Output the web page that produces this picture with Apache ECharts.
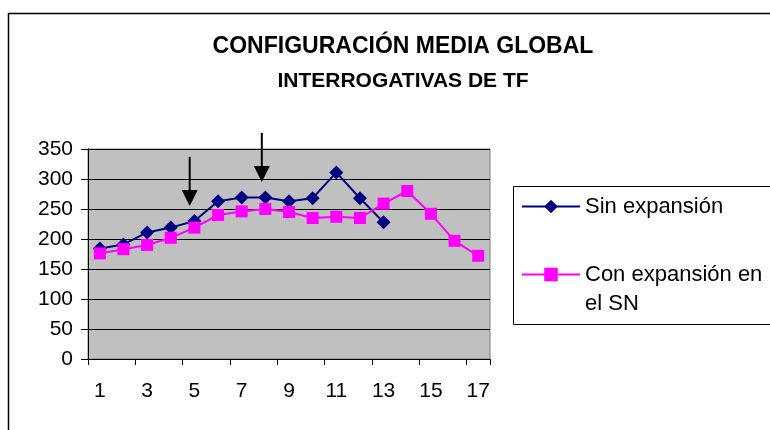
<!DOCTYPE html>
<html>
<head>
<meta charset="utf-8">
<script src="https://cdn.jsdelivr.net/npm/echarts@6/dist/echarts.min.js"></script>
<style>
  html, body { margin: 0; padding: 0; background: #fff; }
  #chart { width: 770px; height: 430px; }
</style>
</head>
<body>
<div id="chart"></div>
<script>
const categories = ['1', '2', '3', '4', '5', '6', '7', '8', '9', '10', '11', '12', '13', '14', '15', '16', '17'];
const sinExpansion = [184, 191, 211, 219, 230, 263, 269, 269, 263, 268, 311, 268, 228];
const conExpansion = [176, 183, 190, 202, 219, 240, 246, 250, 245, 235, 237, 235, 259, 280, 242, 197, 172];
const yTicks = [0, 50, 100, 150, 200, 250, 300, 350];
// arrows: category position (0-based, fractional) and value range top -> tip
const arrowX = [3.8, 6.85];
const arrowTop = [337, 377];
const arrowTip = [255, 295];

const font = 'Arial, "Liberation Sans", sans-serif';
const chart = echarts.init(document.getElementById('chart'));

chart.setOption({
  backgroundColor: '#fff',
  animation: false,
  title: {
    text: 'CONFIGURACIÓN MEDIA GLOBAL',
    subtext: 'INTERROGATIVAS DE TF',
    left: 398,
    top: 30,
    textAlign: 'center',
    itemGap: 13,
    textStyle: { fontFamily: font, fontSize: 23, fontWeight: 'bold', color: '#000' },
    subtextStyle: { fontFamily: font, fontSize: 21, fontWeight: 'bold', color: '#000' },
  },
  legend: {
    orient: 'vertical',
    left: 513,
    top: 186,
    padding: [6, 8, 5, 8],
    itemGap: 10,
    itemWidth: 58,
    itemHeight: 17,
    formatter: name => (name === 'Con expansión en el SN' ? '\u00a0\nCon expansión en\nel SN' : name),
    textStyle: { fontFamily: font, fontSize: 22, color: '#000', lineHeight: 29 },
  },
  grid: {
    left: 88,
    right: 280,
    top: 149,
    bottom: 71,
    show: true,
    backgroundColor: '#c0c0c0',
    borderColor: '#808080',
    borderWidth: 1,
  },
  xAxis: {
    type: 'category',
    data: categories,
    boundaryGap: true,
    axisLine: { lineStyle: { color: '#000', width: 1 } },
    axisTick: { show: true, length: 6, lineStyle: { color: '#000' } },
    axisLabel: { interval: 1, margin: 22, fontFamily: font, fontSize: 21, color: '#000' },
    splitLine: { show: false },
  },
  yAxis: {
    type: 'value',
    min: yTicks[0],
    max: yTicks[yTicks.length - 1],
    interval: 50,
    axisLine: { show: true, lineStyle: { color: '#000', width: 1 } },
    axisTick: { show: true, length: 7, lineStyle: { color: '#000' } },
    axisLabel: { margin: 15, fontFamily: font, fontSize: 21, color: '#000' },
    splitLine: { show: true, lineStyle: { color: '#000', width: 1 } },
  },
  series: [
    {
      name: 'Sin expansión',
      type: 'line',
      data: sinExpansion,
      symbol: 'diamond',
      symbolSize: 14,
      itemStyle: { color: '#000080' },
      lineStyle: { color: '#000080', width: 2 },
    },
    {
      name: 'Con expansión en el SN',
      type: 'line',
      data: conExpansion,
      symbol: 'rect',
      symbolSize: 12,
      itemStyle: { color: '#ff00ff' },
      lineStyle: { color: '#ff00ff', width: 2 },
    },
  ],
});

// arrows placed through the axes (interpolating between category centres)
const toPx = (pos, val) => {
  const i = Math.floor(pos);
  const a = chart.convertToPixel({ gridIndex: 0 }, [i, val]);
  const b = chart.convertToPixel({ gridIndex: 0 }, [i + 1, val]);
  return [a[0] + (b[0] - a[0]) * (pos - i), a[1]];
};

const graphics = [
  {
    type: 'polyline',
    shape: { points: [[8.5, 430], [8.5, 13.5], [770, 13.5]] },
    style: { stroke: '#000', lineWidth: 1.5, fill: null },
    z: 10,
  },
  {
    // legend frame, runs past the right edge like the original
    type: 'rect',
    shape: { x: 513.5, y: 186.5, width: 300, height: 138 },
    style: { stroke: '#000', lineWidth: 1, fill: null },
    z: 10,
  },
];
arrowX.forEach((x, k) => {
  const top = toPx(x, arrowTop[k]);
  const tip = toPx(x, arrowTip[k]);
  const headH = 16;
  graphics.push({
    type: 'line',
    shape: { x1: top[0], y1: top[1], x2: tip[0], y2: tip[1] - headH + 1 },
    style: { stroke: '#000', lineWidth: 2 },
    z: 10,
  });
  graphics.push({
    type: 'polygon',
    shape: { points: [[tip[0] - 8, tip[1] - headH], [tip[0] + 8, tip[1] - headH], [tip[0], tip[1]]] },
    style: { fill: '#000' },
    z: 10,
  });
});
chart.setOption({ graphic: graphics });
</script>
</body>
</html>
